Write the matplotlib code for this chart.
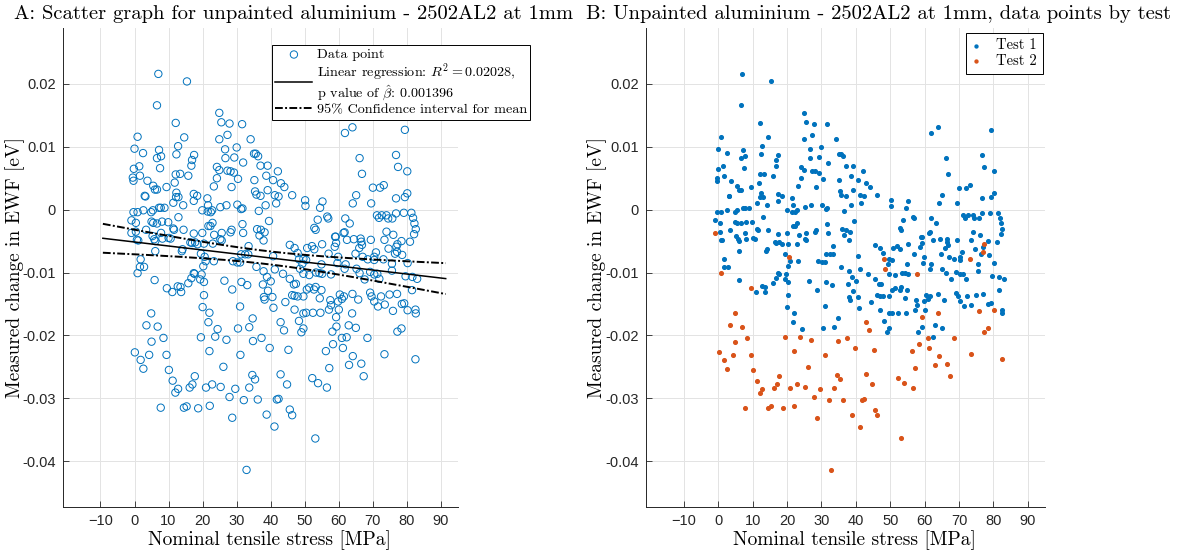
import matplotlib
matplotlib.use("Agg")
import matplotlib.pyplot as plt
import numpy as np

# EWF change vs nominal tensile stress, split by test run
test1_stress = [
    7.0, 15.4, 6.6, 12.1, 0.9, 14.6, 0.0, 2.5, 7.2, 6.6, 7.8, 7.5, 12.8, 12.3, 17.5, 16.9, 16.7,
    -0.2, 1.4, 1.6, -0.5, -0.3, 3.8, 5.5, 6.0, 6.6, 9.4, 11.8, 12.1, 13.4, 15.8, 12.3, 12.2, 12.9,
    17.4, 18.4, 3.0, 3.2, 11.4, 14.3, 17.4, -0.3, 0.9, 2.6, 5.4, 4.9, 7.2, 7.7, 8.8, -0.9, 0.4,
    5.0, 5.5, 6.6, 8.1, 9.9, 11.4, 12.9, 0.4, 0.7, 1.1, 3.4, 5.3, 5.8, 6.1, 7.8, 8.2, 10.0,
    10.6, 11.6, 14.4, 17.4, 14.1, 13.9, 16.4, 16.9, 6.1, 1.8, 2.8, 1.6,
    24.9, 25.5, 27.9, 31.6, 27.3, 24.9, 26.6, 30.0, 29.3, 26.7, 31.9, 34.1, 35.1, 35.6, 36.3,
    37.0, 24.2, 24.9, 24.2, 27.3, 28.2, 29.2, 30.4, 28.5, 23.3, 21.4, 21.6, 22.8, 19.9, 21.5,
    22.4, 25.2, 27.0, 30.2, 31.3, 31.7, 38.7, 39.1, 35.2, 35.4, 35.8, 37.0, 38.5, 39.1, 40.7,
    41.2, 41.6, 36.5, 39.5, 31.7, 31.9, 28.5, 28.2, 25.6, 25.2, 22.9, 22.3, 21.7, 23.4, 19.9,
    36.0, 37.1, 38.2, 37.9, 36.7, 33.5, 32.5, 31.3, 33.4, 25.6, 23.0, 20.4, 18.5, 17.8, 19.5,
    20.9, 23.3, 28.9, 30.2, 31.0,
    5.9, 11.1, 12.7, 13.5, 13.7, 15.8, 16.7, 17.4, 17.6, 19.3, 19.7, 20.4, 20.4, 20.0, 20.2,
    22.0, 21.7, 24.4, 26.4, 28.7, 31.4, 33.1, 31.0, 30.4, 33.7, 34.7, 38.2, 37.7, 39.2, 40.0,
    38.9, 35.8, 37.9, 40.7, 41.2, 40.8,
    61.8, 64.0, 79.4, 66.1, 66.8, 76.8, 77.4, 80.1, 70.0, 72.1, 73.2, 65.1, 64.1, 69.5, 76.8,
    79.4, 80.1, 42.1, 43.0, 44.0, 42.3, 46.3, 50.1, 50.2, 55.2, 54.5, 53.8, 53.2, 52.8, 56.6,
    56.9, 61.9, 63.2, 61.4, 61.7, 59.1, 58.9, 62.4, 64.4, 66.4, 66.6, 69.4, 66.8, 66.0, 71.2,
    71.8, 72.6, 74.0, 74.5, 75.7, 76.8, 79.1, 81.3, 81.8, 82.2, 82.6, 82.1, 80.9, 78.4, 76.9,
    76.5, 78.6, 76.0, 74.0, 73.4, 74.6, 68.5, 67.0, 70.4, 70.9, 70.4, 80.2, 81.6, 83.0, 81.5,
    79.2, 77.1, 78.5, 59.2, 59.8, 59.6, 62.0, 61.7, 64.9, 65.2, 66.1, 67.6, 69.2, 70.4, 71.3,
    71.9, 75.6, 75.6, 79.6, 70.4, 71.5, 72.4, 73.5, 74.9, 82.5, 82.6, 69.2, 69.6, 65.7, 64.0,
    61.5, 60.3, 60.9, 59.8, 57.5, 57.7, 57.1, 60.0, 54.4, 54.9, 54.3, 53.3, 55.1, 51.3, 49.6,
    49.3, 50.4, 47.0, 45.6, 47.9, 49.6, 50.7, 52.1, 52.8, 55.1, 57.0, 58.8, 54.9, 53.2, 52.7,
    51.3, 50.6, 49.6, 47.9, 47.0, 46.3, 46.8, 47.4, 45.6, 43.6, 44.3, 47.0, 49.6, 50.4, 52.4,
    54.6, 40.5, 38.0, 48.3, 49.0, 49.6, 58.1, 59.3, 62.9, 65.0, 62.3,
]
test1_ewf = [
    0.0216, 0.0204, 0.0166, 0.0138, 0.0116, 0.0115, 0.0097, 0.0090, 0.0095, 0.0082, 0.0085,
    0.0066, 0.0101, 0.0088, 0.0087, 0.0079, 0.0070, 0.0065, 0.0069, 0.0054, 0.0051, 0.0046,
    0.0046, 0.0038, 0.0032, 0.0032, 0.0036, 0.0043, 0.0056, 0.0057, 0.0054, 0.0027, 0.0020,
    0.0020, 0.0025, 0.0022, 0.0022, 0.0021, 0.0011, 0.0007, 0.0014, -0.0004, -0.0004, -0.0001,
    -0.0001, -0.0004, 0.0003, 0.0003, 0.0003, -0.0017, -0.0021, -0.0019, -0.0021, -0.0022,
    -0.0019, -0.0020, -0.0030, -0.0012, -0.0035, -0.0048, -0.0049, -0.0032, -0.0042, -0.0047,
    -0.0050, -0.0037, -0.0046, -0.0045, -0.0046, -0.0032, -0.0032, -0.0038, -0.0063, -0.0066,
    -0.0052, -0.0053, -0.0066, -0.0079, -0.0091, -0.0091,
    0.0154, 0.0139, 0.0137, 0.0136, 0.0119, 0.0112, 0.0096, 0.0099, 0.0083, 0.0082, 0.0075,
    0.0112, 0.0089, 0.0089, 0.0085, 0.0070, 0.0068, 0.0063, 0.0050, 0.0062, 0.0061, 0.0059,
    0.0049, 0.0036, 0.0037, 0.0018, 0.0007, -0.0001, -0.0001, -0.0003, -0.0004, 0.0004, 0.0007,
    0.0008, 0.0001, 0.0002, 0.0054, 0.0070, 0.0047, 0.0029, 0.0024, 0.0022, 0.0007, 0.0031,
    0.0047, 0.0023, 0.0010, -0.0002, -0.0018, -0.0023, -0.0037, -0.0032, -0.0036, -0.0037,
    -0.0047, -0.0021, -0.0026, -0.0026, -0.0040, -0.0037, -0.0031, -0.0032, -0.0036, -0.0049,
    -0.0041, -0.0058, -0.0071, -0.0071, -0.0071, -0.0049, -0.0054, -0.0054, -0.0055, -0.0052,
    -0.0070, -0.0082, -0.0082, -0.0082, -0.0084, -0.0084,
    -0.0112, -0.0131, -0.0122, -0.0123, -0.0131, -0.0117, -0.0109, -0.0101, -0.0102, -0.0111,
    -0.0103, -0.0115, -0.0136, -0.0155, -0.0090, -0.0164, -0.0179, -0.0190, -0.0113, -0.0127,
    -0.0115, -0.0120, -0.0154, -0.0189, -0.0187, -0.0173, -0.0143, -0.0119, -0.0129, -0.0114,
    -0.0107, -0.0091, -0.0098, -0.0074, -0.0095, -0.0156,
    0.0122, 0.0131, 0.0127, 0.0082, 0.0057, 0.0087, 0.0068, 0.0061, 0.0035, 0.0035, 0.0039,
    0.0023, 0.0010, 0.0010, 0.0018, 0.0020, 0.0026, 0.0061, 0.0042, 0.0036, 0.0021, 0.0023,
    0.0015, 0.0006, 0.0013, 0.0003, -0.0016, -0.0032, -0.0029, -0.0011, -0.0014, -0.0014,
    -0.0022, -0.0037, -0.0036, -0.0043, -0.0043, -0.0048, -0.0047, -0.0046, -0.0051, -0.0048,
    -0.0056, -0.0061, -0.0009, -0.0013, -0.0009, -0.0009, -0.0014, -0.0014, -0.0006, -0.0005,
    -0.0005, -0.0013, -0.0022, -0.0031, -0.0039, -0.0051, -0.0050, -0.0059, -0.0070, -0.0072,
    -0.0040, -0.0035, -0.0048, -0.0062, -0.0079, -0.0075, -0.0075, -0.0068, -0.0080, -0.0085,
    -0.0107, -0.0110, -0.0128, -0.0149, -0.0134, -0.0150, -0.0053, -0.0075, -0.0085, -0.0087,
    -0.0094, -0.0070, -0.0094, -0.0101, -0.0111, -0.0099, -0.0103, -0.0102, -0.0110, -0.0097,
    -0.0086, -0.0106, -0.0146, -0.0154, -0.0138, -0.0151, -0.0135, -0.0159, -0.0165, -0.0132,
    -0.0138, -0.0143, -0.0134, -0.0138, -0.0135, -0.0142, -0.0146, -0.0144, -0.0152, -0.0159,
    -0.0159, -0.0141, -0.0128, -0.0101, -0.0100, -0.0102, -0.0104, -0.0102, -0.0086, -0.0080,
    -0.0061, -0.0056, -0.0069, -0.0078, -0.0061, -0.0058, -0.0063, -0.0055, -0.0070, -0.0059,
    -0.0087, -0.0123, -0.0127, -0.0124, -0.0127, -0.0138, -0.0138, -0.0137, -0.0136, -0.0119,
    -0.0118, -0.0110, -0.0102, -0.0147, -0.0159, -0.0165, -0.0164, -0.0164, -0.0164, -0.0139,
    -0.0139, -0.0177, -0.0195, -0.0189, -0.0194, -0.0186, -0.0184, -0.0188, -0.0203,
]
test2_stress = [
    -0.9, 0.9, 20.6, 9.5, 4.9, 3.5, 6.8, 23.7, 19.5, 22.0, 27.0, 34.8, 37.3, 39.7, 31.1, 26.1,
    8.5, 5.0, 0.1, 1.8, 2.6, 4.3, 9.4, 10.1, 11.2, 12.0, 12.8, 7.7, 14.5, 15.3, 16.2, 17.0,
    17.7, 18.7, 21.0, 22.1, 22.8, 25.3, 27.9, 28.7, 29.6, 32.1, 33.7, 34.6, 35.4, 36.2, 38.8,
    41.1, 41.8, 32.9, 42.9, 43.9, 45.2, 56.2, 58.3, 61.2, 64.1, 63.0, 66.6, 67.3, 57.2, 73.4,
    82.5, 60.9, 68.4, 77.2, 78.4, 42.9, 44.8, 42.3, 45.6, 46.3, 52.2, 53.9, 56.5, 53.1, 48.3,
    48.6, 57.7, 73.1, 77.1, 77.2, 59.2, 63.9, 75.9, 80.2,
]
test2_ewf = [
    -0.0037, -0.0101, -0.0075, -0.0125, -0.0165, -0.0184, -0.0186, -0.0202, -0.0203, -0.0225,
    -0.0207, -0.0209, -0.0204, -0.0220, -0.0231, -0.0250, -0.0204, -0.0210, -0.0227, -0.0239,
    -0.0253, -0.0231, -0.0231, -0.0255, -0.0272, -0.0291, -0.0285, -0.0315, -0.0315, -0.0313,
    -0.0283, -0.0278, -0.0265, -0.0316, -0.0283, -0.0312, -0.0278, -0.0282, -0.0298, -0.0331,
    -0.0285, -0.0303, -0.0283, -0.0263, -0.0270, -0.0302, -0.0326, -0.0345, -0.0302, -0.0414,
    -0.0179, -0.0192, -0.0223, -0.0225, -0.0214, -0.0220, -0.0233, -0.0247, -0.0245, -0.0265,
    -0.0252, -0.0230, -0.0238, -0.0204, -0.0204, -0.0194, -0.0189, -0.0262, -0.0278, -0.0301,
    -0.0318, -0.0327, -0.0268, -0.0276, -0.0283, -0.0364, -0.0079, -0.0094, -0.0103, -0.0079,
    -0.0067, -0.0055, -0.0171, -0.0165, -0.0161, -0.0160,
]

r_squared = "0.02028"
p_value = "0.001396"
x_ticks = [-10, 0, 10, 20, 30, 40, 50, 60, 70, 80, 90]
y_ticks = [-0.04, -0.03, -0.02, -0.01, 0, 0.01, 0.02]
y_tick_labels = ["-0.04", "-0.03", "-0.02", "-0.01", "0", "0.01", "0.02"]

blue = "#0072BD"
orange = "#D95319"

plt.rcParams["mathtext.fontset"] = "cm"
serif = "cmr10"
tick_font = "Liberation Sans"

x_all = np.array(test1_stress + test2_stress)
y_all = np.array(test1_ewf + test2_ewf)

# least squares fit and 95% band for the mean response
slope, intercept = np.polyfit(x_all, y_all, 1)
n = len(x_all)
resid = y_all - (intercept + slope * x_all)
s = np.sqrt(np.sum(resid ** 2) / (n - 2))
sxx = np.sum((x_all - x_all.mean()) ** 2)
t_crit = 1.967
span = x_all.max() - x_all.min()
x_fit = np.linspace(x_all.min() - 0.1 * span, x_all.max() + 0.1 * span, 200)
y_fit = intercept + slope * x_fit
half = t_crit * s * np.sqrt(1 / n + (x_fit - x_all.mean()) ** 2 / sxx)

fig = plt.figure(figsize=(11.84, 5.51), dpi=100)
W, H = 1184, 551
top, bottom = 28, 507
ax_a = fig.add_axes([63 / W, 1 - bottom / H, 395 / W, (bottom - top) / H])
ax_b = fig.add_axes([646 / W, 1 - bottom / H, 399 / W, (bottom - top) / H])


def style_axes(ax):
    ax.set_xlim(-21, 95)
    ax.set_ylim(-0.0473, 0.0289)
    ax.set_xticks(x_ticks)
    ax.set_yticks(y_ticks)
    ax.set_yticklabels(y_tick_labels)
    for lab in ax.get_xticklabels() + ax.get_yticklabels():
        lab.set_fontfamily(tick_font)
        lab.set_fontsize(10.5)
        lab.set_color("#262626")
    ax.tick_params(direction="in", length=4, width=0.6, color="#262626")
    ax.tick_params(axis="x", pad=5)
    ax.tick_params(axis="y", pad=5)
    ax.grid(True, color="#e3e3e3", linewidth=0.7)
    ax.set_axisbelow(True)
    for side in ("top", "right"):
        ax.spines[side].set_visible(False)
    for side in ("left", "bottom"):
        ax.spines[side].set_color("#262626")
        ax.spines[side].set_linewidth(0.7)
    ax.set_xlabel("Nominal tensile stress [MPa]", fontfamily=serif, fontsize=14)
    ax.set_ylabel("Measured change in EWF [eV]", fontfamily=serif, fontsize=14)
    ax.xaxis.set_label_coords(0.522, -0.048)
    ax.yaxis.set_label_coords(-0.097, 0.5)


# A: all points with the regression line
ax_a.scatter(x_all, y_all, s=28, facecolors="none", edgecolors=blue, linewidths=0.7,
             label="Data point")
ax_a.plot(x_fit, y_fit, color="black", linewidth=1.1,
          label=r"Linear regression: $R^2 = " + r_squared + "$,\np value of $\\hat{\\beta}$: " + p_value)
ax_a.plot(x_fit, y_fit + half, color="black", linewidth=1.4, linestyle=(0, (4, 1.2, 1, 1.2)),
          label="95% Confidence interval for mean")
ax_a.plot(x_fit, y_fit - half, color="black", linewidth=1.4, linestyle=(0, (4, 1.2, 1, 1.2)))
style_axes(ax_a)
leg_a = ax_a.legend(loc="upper left", bbox_to_anchor=(0.529, 0.965), borderaxespad=0,
                    prop={"family": serif, "size": 10.2}, fancybox=False, edgecolor="black",
                    framealpha=1, handlelength=2.6, labelspacing=0.05, borderpad=0.25,
                    handletextpad=0.3)
for t in leg_a.get_texts():
    t.set_linespacing(0.95)
leg_a.get_frame().set_linewidth(0.7)

# B: the same points coloured by test
ax_b.scatter(test1_stress, test1_ewf, s=7, color=blue, label="Test 1")
ax_b.scatter(test2_stress, test2_ewf, s=7, color=orange, label="Test 2")
style_axes(ax_b)
leg_b = ax_b.legend(loc="upper right", bbox_to_anchor=(0.995, 0.99), borderaxespad=0,
                    prop={"family": serif, "size": 10.5}, fancybox=False, edgecolor="black",
                    framealpha=1, handlelength=0.6, labelspacing=0.15, borderpad=0.4,
                    handletextpad=1.1, markerscale=0.8)
leg_b.get_frame().set_linewidth(0.7)

fig.text(294 / W, 1 - 14 / H, "A: Scatter graph for unpainted aluminium - 2502AL2 at 1mm",
         ha="center", va="center", fontfamily=serif, fontsize=14.8)
fig.text(879 / W, 1 - 14 / H, "B: Unpainted aluminium - 2502AL2 at 1mm, data points by test",
         ha="center", va="center", fontfamily=serif, fontsize=14.8)

fig.savefig("out.png", dpi=100, facecolor="white")
